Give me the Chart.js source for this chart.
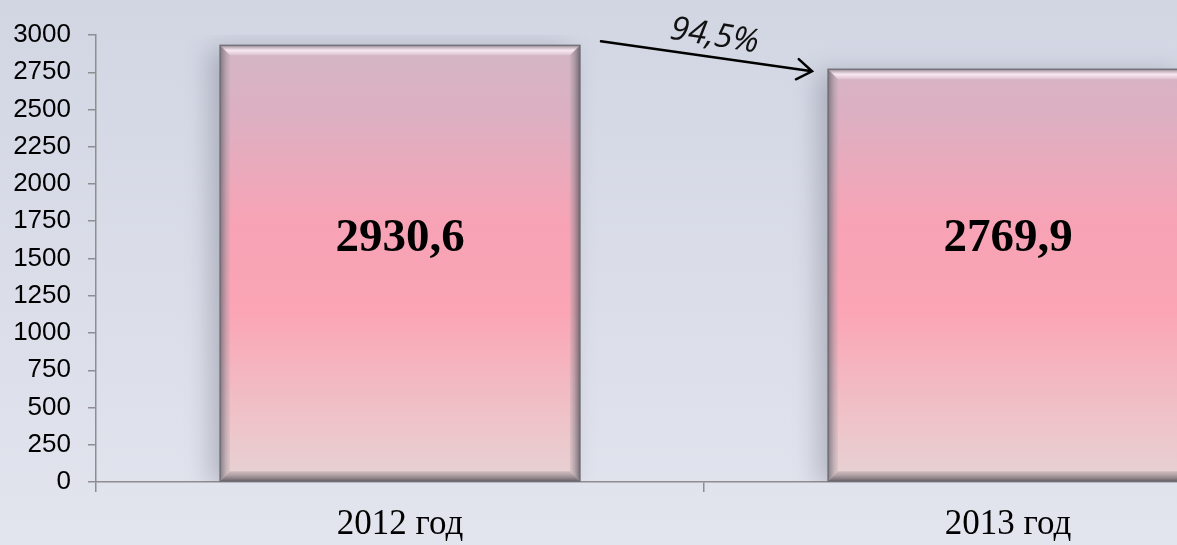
<!DOCTYPE html>
<html lang="ru">
<head>
<meta charset="utf-8">
<title>2012 — 2013</title>
<script src="https://cdn.jsdelivr.net/npm/chart.js@4.4.1/dist/chart.umd.min.js"></script>
<style>
  html, body { margin: 0; padding: 0; background: #dde0ea; }
  #wrap { width: 1177px; height: 545px; overflow: hidden; position: relative; }
  #chart { display: block; }
</style>
</head>
<body>
<div id="wrap">
  <canvas id="chart" width="1320" height="545"></canvas>
</div>
<script>
// данные
const categories = ['2012 год', '2013 год'];
const values = [2930.6, 2769.9];
const valueLabels = ['2930,6', '2769,9'];
const changeLabel = '94,5%';
const yMax = 3000;
const yStep = 250;
const labelLevel = 1630;

// фон слайда
const backgroundPlugin = {
    id: 'slideBackground',
    beforeDraw(chart) {
        const ctx = chart.ctx;
        const g = ctx.createLinearGradient(0, 0, 0, chart.height);
        g.addColorStop(0, '#d2d6e3');
        g.addColorStop(1, '#e2e5ee');
        ctx.save();
        ctx.fillStyle = g;
        ctx.fillRect(0, 0, chart.width, chart.height);
        ctx.restore();
    }
};

// тень под столбцами
const shadowPlugin = {
    id: 'barShadow',
    beforeDatasetsDraw(chart) {
        const ctx = chart.ctx;
        ctx.save();
        ctx.shadowColor = 'rgba(70, 70, 90, 0.3)';
        ctx.shadowBlur = 24;
        ctx.shadowOffsetX = -10;
        ctx.shadowOffsetY = 4;
    },
    afterDatasetsDraw(chart) {
        chart.ctx.restore();
    }
};

// фаска, подписи, стрелка
const decorPlugin = {
    id: 'decor',
    afterDatasetsDraw(chart) {
        const ctx = chart.ctx;
        const yScale = chart.scales.y;
        const bars = chart.getDatasetMeta(0).data;
        const b = 10;

        bars.forEach((bar, i) => {
            const l = bar.x - bar.width / 2;
            const r = bar.x + bar.width / 2;
            const t = bar.y;
            const btm = bar.base;

            ctx.save();
            // верх
            let g = ctx.createLinearGradient(0, t, 0, t + b);
            g.addColorStop(0, 'rgba(150, 140, 150, 0.9)');
            g.addColorStop(0.5, 'rgba(255, 240, 248, 0.85)');
            g.addColorStop(1, 'rgba(255, 255, 255, 0.15)');
            ctx.fillStyle = g;
            ctx.beginPath();
            ctx.moveTo(l, t); ctx.lineTo(r, t); ctx.lineTo(r - b, t + b); ctx.lineTo(l + b, t + b);
            ctx.closePath(); ctx.fill();
            // лево
            g = ctx.createLinearGradient(l, 0, l + b, 0);
            g.addColorStop(0, 'rgba(105, 100, 108, 0.8)');
            g.addColorStop(1, 'rgba(180, 170, 180, 0.25)');
            ctx.fillStyle = g;
            ctx.beginPath();
            ctx.moveTo(l, t); ctx.lineTo(l + b, t + b); ctx.lineTo(l + b, btm - b); ctx.lineTo(l, btm);
            ctx.closePath(); ctx.fill();
            // право
            g = ctx.createLinearGradient(r, 0, r - b, 0);
            g.addColorStop(0, 'rgba(95, 90, 98, 0.85)');
            g.addColorStop(1, 'rgba(170, 160, 170, 0.25)');
            ctx.fillStyle = g;
            ctx.beginPath();
            ctx.moveTo(r, t); ctx.lineTo(r - b, t + b); ctx.lineTo(r - b, btm - b); ctx.lineTo(r, btm);
            ctx.closePath(); ctx.fill();
            // низ
            g = ctx.createLinearGradient(0, btm, 0, btm - b);
            g.addColorStop(0, 'rgba(95, 90, 95, 0.95)');
            g.addColorStop(1, 'rgba(170, 155, 160, 0.4)');
            ctx.fillStyle = g;
            ctx.beginPath();
            ctx.moveTo(l, btm); ctx.lineTo(l + b, btm - b); ctx.lineTo(r - b, btm - b); ctx.lineTo(r, btm);
            ctx.closePath(); ctx.fill();
            // контур
            ctx.strokeStyle = 'rgba(110, 108, 115, 0.9)';
            ctx.lineWidth = 1.5;
            ctx.strokeRect(l, t, r - l, btm - t);
            ctx.restore();

            // подпись значения
            ctx.save();
            ctx.fillStyle = '#000';
            ctx.font = 'bold 47px "Liberation Serif", "Times New Roman", serif';
            ctx.textAlign = 'center';
            ctx.textBaseline = 'middle';
            ctx.fillText(valueLabels[i], bar.x, yScale.getPixelForValue(labelLevel));
            ctx.restore();
        });

        // стрелка между столбцами
        const a = bars[0], c = bars[1];
        const x1 = a.x + a.width / 2 + 21, y1 = a.y - 4;
        const x2 = c.x - c.width / 2 - 16, y2 = c.y + 2;
        const ang = Math.atan2(y2 - y1, x2 - x1);
        ctx.save();
        ctx.strokeStyle = '#000';
        ctx.lineWidth = 2.5;
        ctx.lineCap = 'round';
        ctx.beginPath();
        ctx.moveTo(x1, y1); ctx.lineTo(x2, y2);
        const h = 18, s = 0.6;
        ctx.moveTo(x2 - h * Math.cos(ang - s), y2 - h * Math.sin(ang - s));
        ctx.lineTo(x2, y2);
        ctx.lineTo(x2 - h * Math.cos(ang + s), y2 - h * Math.sin(ang + s));
        ctx.stroke();

        ctx.translate((x1 + x2) / 2 + 8, (y1 + y2) / 2 - 20);
        ctx.rotate(ang + 0.02);
        ctx.fillStyle = '#111';
        ctx.font = 'italic 33px "Open Sans", sans-serif';
        ctx.textAlign = 'center';
        ctx.textBaseline = 'middle';
        ctx.fillText(changeLabel, 0, 0);
        ctx.restore();
    }
};

function barFill(context) {
    const chart = context.chart;
    const area = chart.chartArea;
    if (!area) return '#f4a6b6';
    const g = chart.ctx.createLinearGradient(0, area.top, 0, area.bottom);
    g.addColorStop(0, '#d2b6c5');
    g.addColorStop(0.18, '#dcb0c2');
    g.addColorStop(0.42, '#f7a3b5');
    g.addColorStop(0.62, '#fba5b5');
    g.addColorStop(0.85, '#efc2c8');
    g.addColorStop(1, '#e6d2d4');
    return g;
}

const ctx = document.getElementById('chart').getContext('2d');
new Chart(ctx, {
    type: 'bar',
    data: {
        labels: categories,
        datasets: [{
            data: values,
            backgroundColor: barFill,
            borderWidth: 0,
            barPercentage: 1,
            categoryPercentage: 0.592
        }]
    },
    options: {
        responsive: false,
        animation: false,
        layout: { padding: { top: 35, right: 8, left: 0, bottom: 0 } },
        plugins: {
            legend: { display: false },
            tooltip: { enabled: false }
        },
        scales: {
            x: {
                offset: true,
                border: { display: true, color: '#8e8e92', width: 1.5 },
                grid: { display: true, drawOnChartArea: false, tickLength: 10, color: '#8e8e92', lineWidth: 1.5, offset: true },
                ticks: {
                    color: '#000',
                    padding: 12,
                    font: { family: '"Liberation Serif", "Times New Roman", serif', size: 35 }
                },
                afterFit(scale) { scale.height = 63; }
            },
            y: {
                min: 0,
                max: yMax,
                border: { display: true, color: '#8e8e92', width: 1.5 },
                grid: { display: true, drawOnChartArea: false, tickLength: 8, color: '#8e8e92', lineWidth: 1.5 },
                ticks: {
                    stepSize: yStep,
                    color: '#000',
                    padding: 17,
                    font: { family: '"Liberation Sans", Arial, sans-serif', size: 26 },
                    callback: (v) => String(v)
                },
                afterFit(scale) { scale.width = 96; }
            }
        }
    },
    plugins: [backgroundPlugin, shadowPlugin, decorPlugin]
});
</script>
</body>
</html>
